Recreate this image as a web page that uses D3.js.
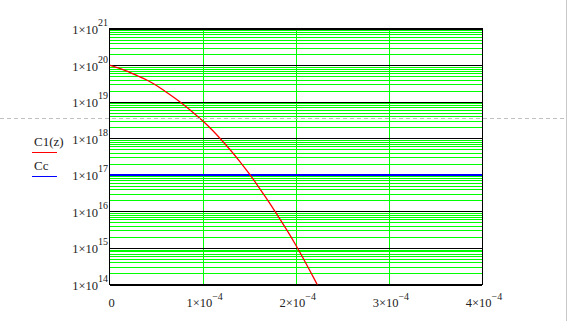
<!DOCTYPE html>
<html>
<head>
<meta charset="utf-8">
<script src="https://cdn.jsdelivr.net/npm/d3@7"></script>
<style>
  body { margin: 0; background: #fff; }
  svg { display: block; }
  text { font-family: "Liberation Serif", "Times New Roman", serif; fill: #222; }
  .grid line, .crisp { shape-rendering: crispEdges; }
</style>
</head>
<body>
<div id="chart"></div>
<script>
// z values (units of 1e-4) and C1(z)
const zVals = [0, 0.1, 0.2, 0.3, 0.4, 0.5, 0.6, 0.7, 0.8, 0.9, 1.0, 1.1,
               1.2, 1.3, 1.4, 1.5, 1.6, 1.7, 1.8, 1.9, 2.0, 2.1, 2.2, 2.3];
const c1Vals = [1e20, 8.3e19, 6.6e19, 5.1e19, 3.9e19, 2.8e19, 1.9e19, 1.26e19,
                8.1e18, 5.0e18, 3.0e18, 1.7e18, 9.1e17, 4.7e17, 2.3e17, 1.07e17,
                4.7e16, 2.0e16, 8.1e15, 3.2e15, 1.2e15, 4.2e14, 1.4e14, 4.5e13];
const ccVal = 1e17;

// ticks
const xTicks = [0, 1e-4, 2e-4, 3e-4, 4e-4];
const xTickMant = ["0", "1", "2", "3", "4"];
const xTickExp = [null, "−4", "−4", "−4", "−4"];
const yExps = [14, 15, 16, 17, 18, 19, 20, 21];

const seriesNames = ["C1(z)", "Cc"];
const seriesColours = ["#ff0000", "#0000ff"];

const width = 568, height = 321;
const plot = { left: 109.5, right: 482, top: 28.5, bottom: 284.5 };

const svg = d3.select("#chart")
    .append("svg")
    .attr("width", width)
    .attr("height", height);

const xScale = d3.scaleLinear().domain([0, 4e-4]).range([plot.left, plot.right]);
const yScale = d3.scaleLog().domain([1e14, 1e21]).range([plot.bottom, plot.top]);

// minor horizontal grid (green) 2..9 x 10^n
const minor = [];
yExps.slice(0, -1).forEach(e => {
    for (let k = 2; k <= 9; k++) minor.push(k * Math.pow(10, e));
});
const majors = yExps.map(e => Math.pow(10, e));

svg.append("g")
    .attr("class", "grid")
    .attr("transform", `translate(${plot.left},0)`)
    .call(d3.axisLeft(yScale).tickValues(minor).tickSize(-(plot.right - plot.left)).tickFormat(""))
    .call(g => g.select(".domain").remove())
    .selectAll("line").attr("stroke", "#00ff00").attr("stroke-width", 1);

// vertical grid (green)
svg.append("g")
    .attr("class", "grid")
    .attr("transform", `translate(0,${plot.top})`)
    .call(d3.axisBottom(xScale).tickValues(xTicks.slice(1, -1)).tickSize(plot.bottom - plot.top).tickFormat(""))
    .call(g => g.select(".domain").remove())
    .selectAll("line").attr("stroke", "#00ff00").attr("stroke-width", 1);

// major decade lines (black)
svg.append("g")
    .attr("class", "grid")
    .attr("transform", `translate(${plot.left},0)`)
    .call(d3.axisLeft(yScale).tickValues(majors).tickSize(-(plot.right - plot.left)).tickFormat(""))
    .call(g => g.select(".domain").remove())
    .selectAll("line").attr("stroke", "#000").attr("stroke-width", 1);

// frame
svg.append("rect")
    .attr("class", "crisp")
    .attr("x", plot.left).attr("y", plot.top)
    .attr("width", plot.right - plot.left).attr("height", plot.bottom - plot.top)
    .attr("fill", "none").attr("stroke", "#000").attr("stroke-width", 1);

// clip
svg.append("clipPath").attr("id", "clip")
    .append("rect")
    .attr("x", plot.left).attr("y", plot.top)
    .attr("width", plot.right - plot.left).attr("height", plot.bottom - plot.top);

// Cc line
svg.append("line")
    .attr("class", "crisp")
    .attr("x1", xScale(0)).attr("x2", xScale(4e-4))
    .attr("y1", yScale(ccVal)).attr("y2", yScale(ccVal))
    .attr("stroke", seriesColours[1]).attr("stroke-width", 2);

// C1(z) curve
const c1Data = zVals.map((z, i) => ({ z: z * 1e-4, c: c1Vals[i] }));
svg.append("path")
    .datum(c1Data)
    .attr("clip-path", "url(#clip)")
    .attr("fill", "none")
    .attr("stroke", seriesColours[0])
    .attr("stroke-width", 1.3)
    .attr("d", d3.line().x(d => xScale(d.z)).y(d => yScale(d.c)).curve(d3.curveMonotoneX));

// y labels 1x10^n
yExps.forEach(e => {
    const t = svg.append("text")
        .attr("x", 108)
        .attr("y", yScale(Math.pow(10, e)) + 5.5)
        .attr("text-anchor", "end")
        .style("font-size", "12.5px");
    t.append("tspan").text("1×10");
    t.append("tspan").attr("dy", -8).style("font-size", "10px").text(e);
});

// x labels
xTicks.forEach((v, i) => {
    const t = svg.append("text")
        .attr("x", xScale(v) + 2)
        .attr("y", 306.5)
        .attr("text-anchor", "middle")
        .style("font-size", "12.5px");
    if (xTickExp[i] === null) {
        t.text(xTickMant[i]);
    } else {
        t.append("tspan").text(xTickMant[i] + "×10");
        t.append("tspan").attr("dy", -6.5).style("font-size", "10px").text(xTickExp[i]);
    }
});

// legend
seriesNames.forEach((name, i) => {
    const y0 = 146 + i * 24;
    svg.append("text")
        .attr("x", 34).attr("y", y0)
        .style("font-size", "13px")
        .text(name);
    svg.append("line")
        .attr("class", "crisp")
        .attr("x1", 32).attr("x2", 57)
        .attr("y1", y0 + 6.5).attr("y2", y0 + 6.5)
        .attr("stroke", seriesColours[i]).attr("stroke-width", 1);
});

// page guides (dashed break, right edge)
svg.append("line")
    .attr("class", "crisp")
    .attr("x1", 0).attr("x2", 565)
    .attr("y1", 118.5).attr("y2", 118.5)
    .attr("stroke", "#c0c0c0").attr("stroke-dasharray", "4,3");
svg.append("line")
    .attr("class", "crisp")
    .attr("x1", 566.5).attr("x2", 566.5)
    .attr("y1", 0).attr("y2", height)
    .attr("stroke", "#c8c8c8").attr("stroke-width", 1);
</script>
</body>
</html>
